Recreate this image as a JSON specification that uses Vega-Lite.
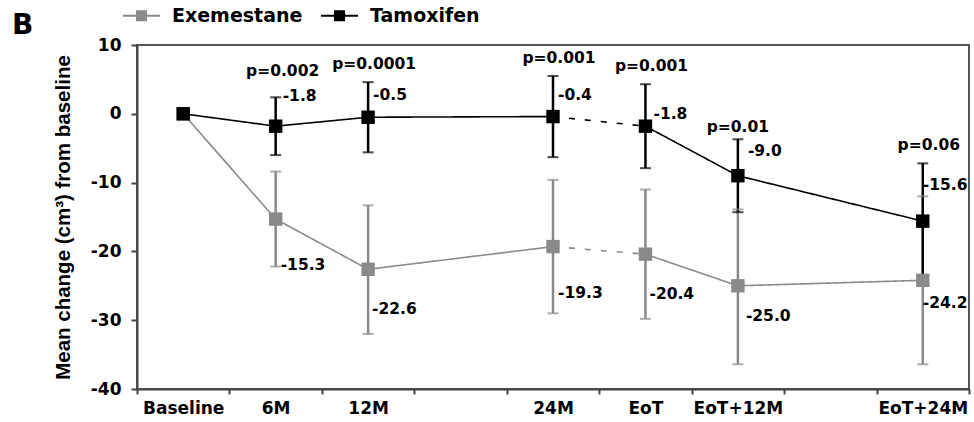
{
  "$schema": "https://vega.github.io/schema/vega-lite/v6.json",
  "width": 832,
  "height": 344,
  "autosize": {"type": "none"},
  "padding": {"left": 137, "top": 45, "right": 5, "bottom": 33},
  "background": "white",
  "title": {"text": "B", "anchor": "start", "frame": "group", "dx": -125, "dy": 43, "font": "DejaVu Sans", "fontSize": 28, "fontWeight": "bold", "color": "black", "offset": 0},
  "config": {
    "view": {"stroke": "#555555", "strokeWidth": 2},
    "axis": {"labelFont": "DejaVu Sans", "labelFontWeight": "bold", "labelFontSize": 17, "labelColor": "black", "domainColor": "#444444", "domainWidth": 2, "tickColor": "#444444", "tickWidth": 2, "grid": false},
    "text": {"font": "DejaVu Sans", "fontWeight": "bold", "fontSize": 15.5, "color": "black", "baseline": "middle"}
  },
  "datasets": {
    "pts": [
      {"series": "Exemestane", "time": "Baseline", "mean": 0, "label": "0.0", "lower": null, "upper": null, "p": null},
      {"series": "Exemestane", "time": "6M", "mean": -15.3, "label": "-15.3", "lower": -22.2, "upper": -8.4, "p": null},
      {"series": "Exemestane", "time": "12M", "mean": -22.6, "label": "-22.6", "lower": -32.0, "upper": -13.3, "p": null},
      {"series": "Exemestane", "time": "24M", "mean": -19.3, "label": "-19.3", "lower": -29.0, "upper": -9.6, "p": null},
      {"series": "Exemestane", "time": "EoT", "mean": -20.4, "label": "-20.4", "lower": -29.8, "upper": -11.0, "p": null},
      {"series": "Exemestane", "time": "EoT+12M", "mean": -25.0, "label": "-25.0", "lower": -36.4, "upper": -13.9, "p": null},
      {"series": "Exemestane", "time": "EoT+24M", "mean": -24.2, "label": "-24.2", "lower": -36.4, "upper": -12.0, "p": null},
      {"series": "Tamoxifen", "time": "Baseline", "mean": 0, "label": "0.0", "lower": null, "upper": null, "p": null},
      {"series": "Tamoxifen", "time": "6M", "mean": -1.8, "label": "-1.8", "lower": -6.0, "upper": 2.4, "p": "p=0.002"},
      {"series": "Tamoxifen", "time": "12M", "mean": -0.5, "label": "-0.5", "lower": -5.6, "upper": 4.6, "p": "p=0.0001"},
      {"series": "Tamoxifen", "time": "24M", "mean": -0.4, "label": "-0.4", "lower": -6.3, "upper": 5.5, "p": "p=0.001"},
      {"series": "Tamoxifen", "time": "EoT", "mean": -1.8, "label": "-1.8", "lower": -7.9, "upper": 4.3, "p": "p=0.001"},
      {"series": "Tamoxifen", "time": "EoT+12M", "mean": -9.0, "label": "-9.0", "lower": -14.3, "upper": -3.7, "p": "p=0.01"},
      {"series": "Tamoxifen", "time": "EoT+24M", "mean": -15.6, "label": "-15.6", "lower": -24.0, "upper": -7.2, "p": "p=0.06"}
    ],
    "segs": [
      {"series": "Exemestane", "seg": "a", "style": "solid", "time": "Baseline", "mean": 0},
      {"series": "Exemestane", "seg": "a", "style": "solid", "time": "6M", "mean": -15.3},
      {"series": "Exemestane", "seg": "a", "style": "solid", "time": "12M", "mean": -22.6},
      {"series": "Exemestane", "seg": "a", "style": "solid", "time": "24M", "mean": -19.3},
      {"series": "Exemestane", "seg": "b", "style": "dashed", "time": "24M", "mean": -19.3},
      {"series": "Exemestane", "seg": "b", "style": "dashed", "time": "EoT", "mean": -20.4},
      {"series": "Exemestane", "seg": "c", "style": "solid", "time": "EoT", "mean": -20.4},
      {"series": "Exemestane", "seg": "c", "style": "solid", "time": "EoT+12M", "mean": -25.0},
      {"series": "Exemestane", "seg": "c", "style": "solid", "time": "EoT+24M", "mean": -24.2},
      {"series": "Tamoxifen", "seg": "a", "style": "solid", "time": "Baseline", "mean": 0},
      {"series": "Tamoxifen", "seg": "a", "style": "solid", "time": "6M", "mean": -1.8},
      {"series": "Tamoxifen", "seg": "a", "style": "solid", "time": "12M", "mean": -0.5},
      {"series": "Tamoxifen", "seg": "a", "style": "solid", "time": "24M", "mean": -0.4},
      {"series": "Tamoxifen", "seg": "b", "style": "dashed", "time": "24M", "mean": -0.4},
      {"series": "Tamoxifen", "seg": "b", "style": "dashed", "time": "EoT", "mean": -1.8},
      {"series": "Tamoxifen", "seg": "c", "style": "solid", "time": "EoT", "mean": -1.8},
      {"series": "Tamoxifen", "seg": "c", "style": "solid", "time": "EoT+12M", "mean": -9.0},
      {"series": "Tamoxifen", "seg": "c", "style": "solid", "time": "EoT+24M", "mean": -15.6}
    ]
  },
  "data": {"name": "pts"},
  "encoding": {
    "x": {
      "field": "time", "type": "ordinal",
      "scale": {"domain": ["Baseline", "6M", "12M", "g1", "24M", "EoT", "EoT+12M", "g2", "EoT+24M"], "paddingInner": 0, "paddingOuter": 0},
      "axis": {"title": null, "labelAngle": 0, "tickBand": "extent", "tickSize": 5, "labelPadding": 6, "labelExpr": "datum.value == 'g1' || datum.value == 'g2' ? '' : datum.value"}
    },
    "y": {
      "field": "mean", "type": "quantitative",
      "scale": {"domain": [-40, 10], "nice": false, "zero": false},
      "axis": {"title": "Mean change (cm³) from baseline", "titleFont": "Liberation Sans", "titleFontSize": 20.5, "titleFontWeight": "bold", "titleColor": "black", "titlePadding": 17, "values": [-40, -30, -20, -10, 0, 10], "tickSize": 6, "labelPadding": 10, "labelFlush": false, "labelExpr": "datum.value < 0 ? '-' + abs(datum.value) : '' + datum.value"}
    }
  },
  "layer": [
    {
      "transform": [{"filter": "datum.lower != null"}],
      "mark": {"type": "rule", "strokeWidth": 2.5},
      "encoding": {
        "y": {"field": "lower", "type": "quantitative"},
        "y2": {"field": "upper"},
        "color": {"field": "series", "type": "nominal", "scale": {"domain": ["Exemestane", "Tamoxifen"], "range": ["#8a8a8a", "#000000"]}}
      }
    },
    {
      "transform": [{"filter": "datum.lower != null"}, {"fold": ["lower", "upper"], "as": ["end", "val"]}],
      "mark": {"type": "tick", "orient": "horizontal", "size": 11, "thickness": 2},
      "encoding": {
        "y": {"field": "val", "type": "quantitative"},
        "color": {"field": "series", "type": "nominal"}
      }
    },
    {
      "data": {"name": "segs"},
      "mark": {"type": "line", "strokeWidth": 1.6},
      "encoding": {
        "color": {"field": "series", "type": "nominal"},
        "detail": {"field": "seg"},
        "strokeDash": {"field": "style", "type": "nominal", "scale": {"domain": ["solid", "dashed"], "range": [[1, 0], [6, 10]]}, "legend": null},
        "order": {"value": null}
      }
    },
    {
      "mark": {"type": "point", "shape": "square", "filled": true, "size": 180, "opacity": 1},
      "encoding": {
        "color": {"field": "series", "type": "nominal",
          "legend": {"title": null, "orient": "none", "direction": "horizontal", "legendX": -14, "legendY": -48, "padding": 0, "symbolType": "M-1,-0.06H1V0.06H-1Z M-0.3,-0.3H0.3V0.3H-0.3Z", "symbolSize": 1369, "symbolStrokeWidth": 0, "symbolOpacity": 1, "labelFont": "DejaVu Sans", "labelFontWeight": "bold", "labelFontSize": 19, "labelColor": "black", "labelOffset": 12, "columnPadding": 18,
            "encode": {"symbols": {"update": {"opacity": {"value": 1}, "fillOpacity": {"value": 1}, "strokeWidth": {"value": 0}}}}}}
      }
    },
    {
      "transform": [{"filter": "datum.series == 'Tamoxifen' && datum.time == '6M'"}],
      "mark": {"type": "text", "align": "left", "dx": 7, "dy": -30},
      "encoding": {"text": {"field": "label"}}
    },
    {
      "transform": [{"filter": "datum.series == 'Tamoxifen' && (datum.time == '12M' || datum.time == '24M')"}],
      "mark": {"type": "text", "align": "left", "dx": 5, "dy": -22},
      "encoding": {"text": {"field": "label"}}
    },
    {
      "transform": [{"filter": "datum.series == 'Tamoxifen' && datum.time == 'EoT'"}],
      "mark": {"type": "text", "align": "left", "dx": 8, "dy": -12},
      "encoding": {"text": {"field": "label"}}
    },
    {
      "transform": [{"filter": "datum.series == 'Tamoxifen' && datum.time == 'EoT+12M'"}],
      "mark": {"type": "text", "align": "left", "dx": 10, "dy": -25},
      "encoding": {"text": {"field": "label"}}
    },
    {
      "transform": [{"filter": "datum.series == 'Tamoxifen' && datum.time == 'EoT+24M'"}],
      "mark": {"type": "text", "align": "left", "dx": 0, "dy": -36},
      "encoding": {"text": {"field": "label"}}
    },
    {
      "transform": [{"filter": "datum.series == 'Exemestane' && (datum.time == '6M' || datum.time == '24M')"}],
      "mark": {"type": "text", "align": "left", "dx": 5, "dy": 46},
      "encoding": {"text": {"field": "label"}}
    },
    {
      "transform": [{"filter": "datum.series == 'Exemestane' && (datum.time == '12M' || datum.time == 'EoT')"}],
      "mark": {"type": "text", "align": "left", "dx": 4, "dy": 40},
      "encoding": {"text": {"field": "label"}}
    },
    {
      "transform": [{"filter": "datum.series == 'Exemestane' && datum.time == 'EoT+12M'"}],
      "mark": {"type": "text", "align": "left", "dx": 8, "dy": 30},
      "encoding": {"text": {"field": "label"}}
    },
    {
      "transform": [{"filter": "datum.series == 'Exemestane' && datum.time == 'EoT+24M'"}],
      "mark": {"type": "text", "align": "left", "dx": 0, "dy": 23},
      "encoding": {"text": {"field": "label"}}
    },
    {
      "transform": [{"filter": "datum.p != null && datum.time == '6M'"}],
      "mark": {"type": "text", "align": "center", "dx": 7, "dy": -26},
      "encoding": {"y": {"field": "upper", "type": "quantitative"}, "text": {"field": "p"}}
    },
    {
      "transform": [{"filter": "datum.p != null && datum.time == 'EoT+12M'"}],
      "mark": {"type": "text", "align": "center", "dx": 0, "dy": -12},
      "encoding": {"y": {"field": "upper", "type": "quantitative"}, "text": {"field": "p"}}
    },
    {
      "transform": [{"filter": "datum.p != null && datum.time != '6M' && datum.time != 'EoT+12M'"}],
      "mark": {"type": "text", "align": "center", "dx": 6, "dy": -18},
      "encoding": {"y": {"field": "upper", "type": "quantitative"}, "text": {"field": "p"}}
    }
  ]
}
